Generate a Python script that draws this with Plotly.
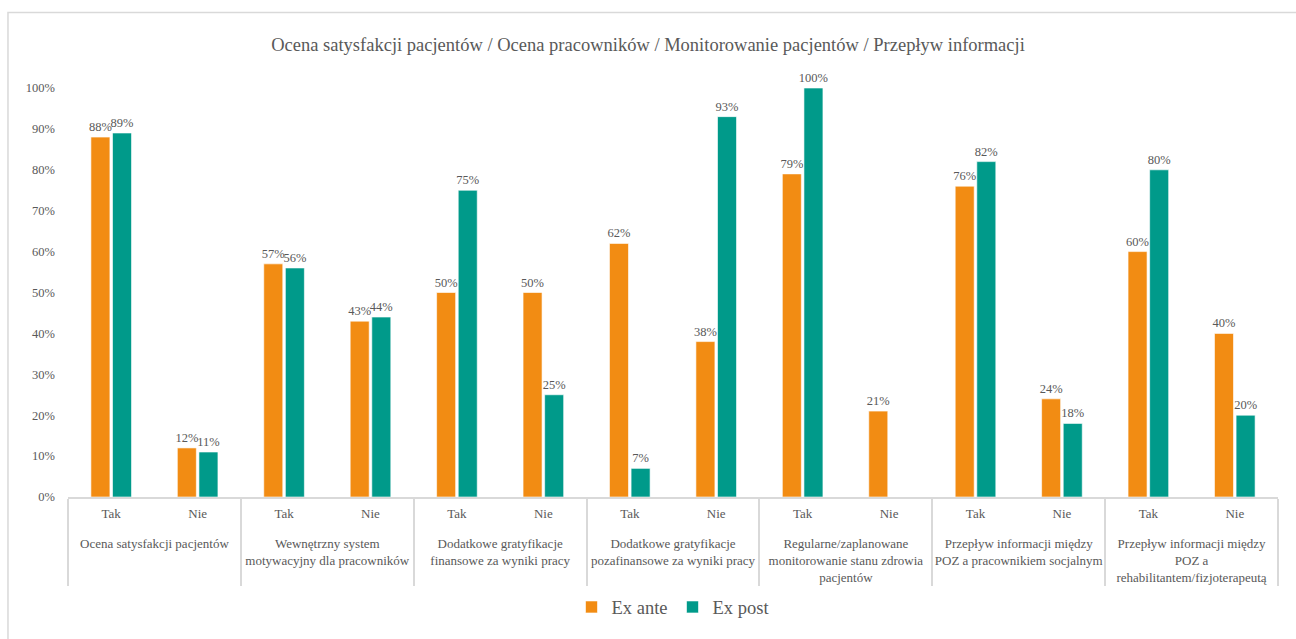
import plotly.graph_objects as go

groups = [
    "Ocena satysfakcji pacjentów",
    "Wewnętrzny system<br>motywacyjny dla pracowników",
    "Dodatkowe gratyfikacje<br>finansowe za wyniki pracy",
    "Dodatkowe gratyfikacje<br>pozafinansowe za wyniki pracy",
    "Regularne/zaplanowane<br>monitorowanie stanu zdrowia<br>pacjentów",
    "Przepływ informacji między<br>POZ a pracownikiem socjalnym",
    "Przepływ informacji między<br>POZ a<br>rehabilitantem/fizjoterapeutą",
]
answers = ["Tak", "Nie"]

ex_ante = [88, 12, 57, 43, 50, 50, 62, 38, 79, 21, 76, 24, 60, 40]
ex_post = [89, 11, 56, 44, 75, 25, 7, 93, 100, None, 82, 18, 80, 20]

title = "Ocena satysfakcji pacjentów / Ocena pracowników / Monitorowanie pacjentów / Przepływ informacji"

# inner labels carry a blank second line so the group labels sit lower
outer = [g for g in groups for _ in answers]
inner = [f"{a}<br> " for _ in groups for a in answers]
x = [outer, inner]

FONT = "Liberation Serif"
GREY = "#595959"
ORANGE = "#F28C13"
TEAL = "#009A8A"

fig = go.Figure()
for name, vals, color in [("Ex ante", ex_ante, ORANGE), ("Ex post", ex_post, TEAL)]:
    fig.add_trace(go.Bar(
        x=x, y=vals, name=name,
        marker=dict(color=color, line=dict(color="rgba(255,255,255,0.6)", width=1)),
        text=[f"{v}%" if v is not None else "" for v in vals],
        textposition="outside",
        constraintext="none",
        textfont=dict(family=FONT, size=12.5, color=GREY),
        cliponaxis=False,
    ))

fig.update_layout(
    width=1296, height=639,
    margin=dict(l=68, r=18, t=88, b=139),
    paper_bgcolor="white", plot_bgcolor="white",
    font=dict(family=FONT, color=GREY, size=12.5),
    title=dict(text=title, x=0.5, xanchor="center", y=1 - 45 / 639, yanchor="middle",
               font=dict(family=FONT, size=18.5, color=GREY)),
    barmode="group", bargap=0.5, bargroupgap=0.12,
    uniformtext=dict(minsize=12, mode="show"),
    legend=dict(orientation="h", x=0.5, xanchor="center", y=-0.27, yanchor="middle",
                font=dict(family=FONT, size=18.5, color=GREY), traceorder="normal",
                itemwidth=30, tracegroupgap=0),
    shapes=[dict(type="rect", xref="paper", yref="paper",
                 x0=-0.0496, x1=1.03, y0=-0.4, y1=1.1845,
                 line=dict(color="#D9D9D9", width=1.5), layer="below")],
)
fig.update_yaxes(range=[0, 100], dtick=10, ticksuffix="%", showgrid=False,
                 zeroline=False, showline=False, ticklabelstandoff=12, automargin=False,
                 tickfont=dict(family=FONT, size=12.5, color=GREY))
fig.update_xaxes(showline=True, linecolor="#D9D9D9", linewidth=1.5,
                 showdividers=True, dividercolor="#D9D9D9", dividerwidth=1.5,
                 ticklabelstandoff=4, automargin=False,
                 tickfont=dict(family=FONT, size=13, color=GREY))

fig.write_html("out.html")
